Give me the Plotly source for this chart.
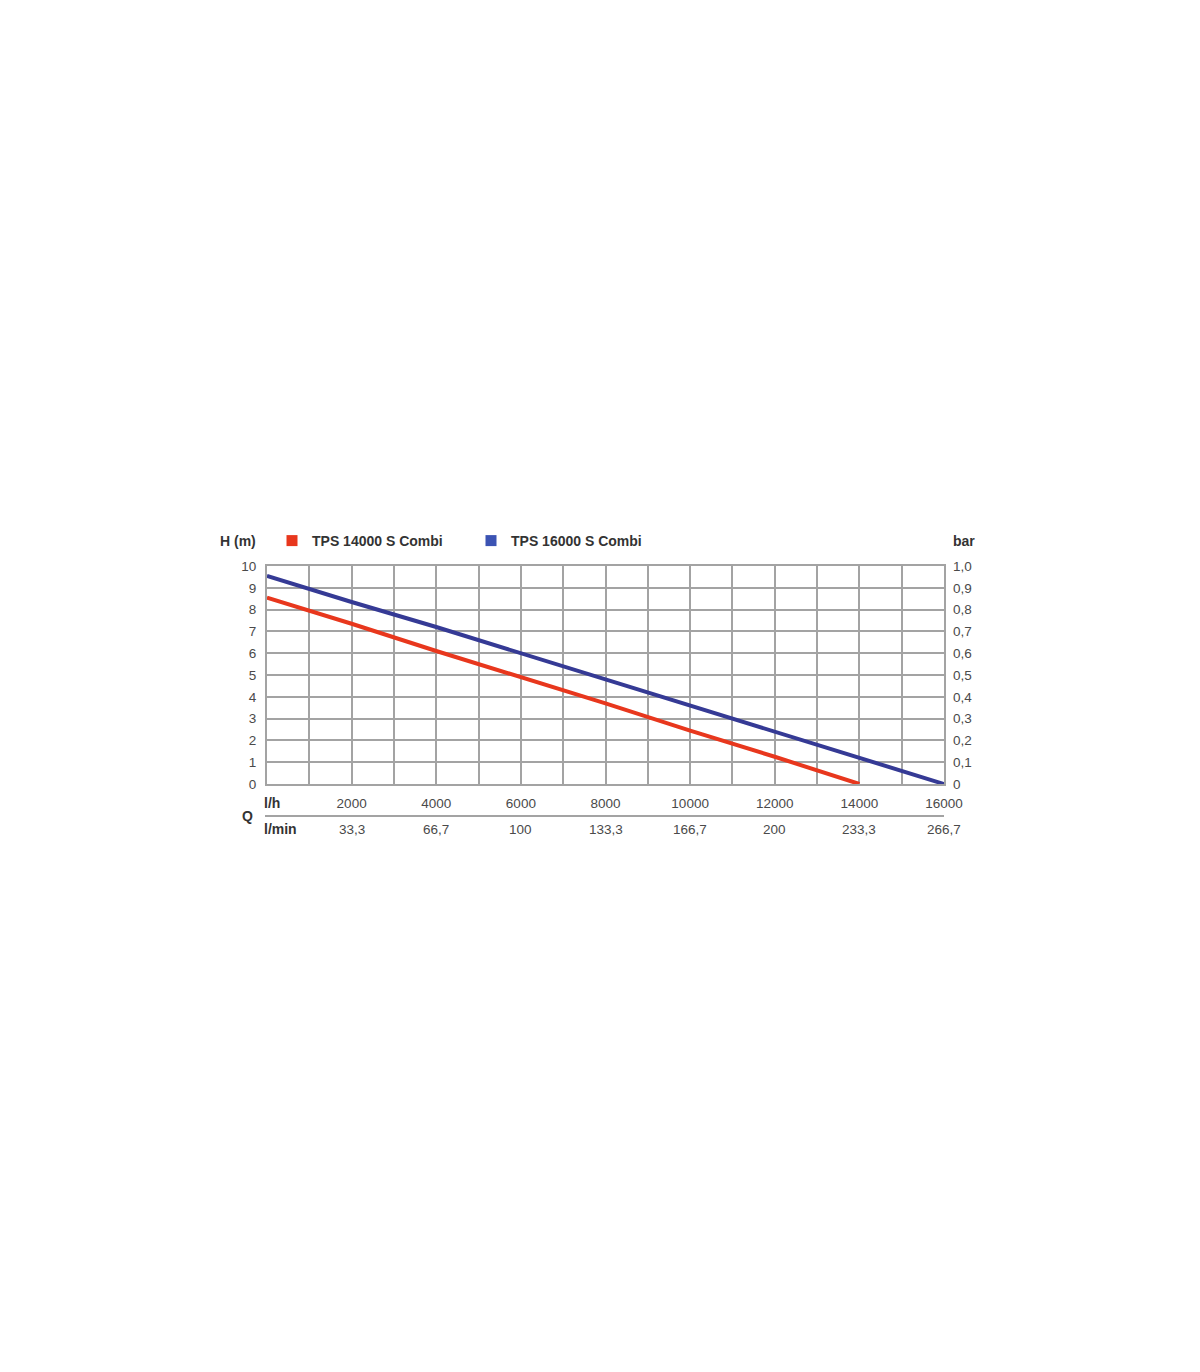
import plotly.graph_objects as go

# ── Data ─────────────────────────────────────────────────────────────────────
Q_LH = [0, 2000, 4000, 6000, 8000, 10000, 12000, 14000, 16000]
H_14000 = [8.55, 7.35, 6.1, 4.9, 3.7, 2.45, 1.25, 0.0, None]
H_16000 = [9.55, 8.35, 7.2, 6.0, 4.8, 3.6, 2.4, 1.2, 0.0]

SERIES = ["TPS 14000 S Combi", "TPS 16000 S Combi"]
LINE_COLORS = ["#e8371d", "#353a95"]
LEGEND_COLORS = ["#e8371d", "#3b53b3"]

X_GRID = list(range(0, 16001, 1000))
X_LABELS = ["" if v % 2000 or v == 0 else str(v) for v in X_GRID]
LMIN_VALS = [2000, 4000, 6000, 8000, 10000, 12000, 14000, 16000]
LMIN_LABELS = ["33,3", "66,7", "100", "133,3", "166,7", "200", "233,3", "266,7"]
H_TICKS = list(range(0, 11))
BAR_VALS = [i / 10 for i in range(0, 11)]
BAR_LABELS = ["0", "0,1", "0,2", "0,3", "0,4", "0,5", "0,6", "0,7", "0,8", "0,9", "1,0"]

_FONT = "Liberation Sans, Arial, sans-serif"
_TICK = "#4a4a4a"
_BOLD = "#333333"
_GRID = "#a3a3a3"
_TICK_SIZE = 13.5

W, H = 1200, 1372
OFF = 8  # page body margin
L, R, T, B = 267 - OFF, 944 - OFF, 566 - OFF, 784 - OFF  # plot area in px


def _fx(px):
    return (px - OFF - L) / (R - L)


def _fy(py):
    return (B - (py - OFF)) / (B - T)


fig = go.Figure()

for name, ys, lc in zip(SERIES, [H_14000, H_16000], LINE_COLORS):
    fig.add_trace(go.Scatter(
        x=Q_LH, y=ys, mode="lines", name=name, showlegend=False,
        line=dict(color=lc, width=4), connectgaps=False,
    ))

# legend-only square markers
for name, lc in zip(SERIES, LEGEND_COLORS):
    fig.add_trace(go.Scatter(
        x=[None], y=[None], mode="markers", name=name,
        marker=dict(symbol="square", size=11, color=lc),
    ))

# invisible trace so the right (bar) axis is drawn
fig.add_trace(go.Scatter(
    x=[Q_LH[0], Q_LH[-1]], y=[BAR_VALS[0], BAR_VALS[-1]], yaxis="y2",
    mode="lines", line=dict(width=0), showlegend=False, hoverinfo="skip",
))

fig.update_layout(
    width=W, height=H,
    margin=dict(l=L, r=W - R, t=T, b=H - B, autoexpand=False),
    paper_bgcolor="white", plot_bgcolor="white",
    font=dict(family=_FONT, size=_TICK_SIZE, color=_TICK),
    showlegend=True,
    legend=dict(
        orientation="h", xref="paper", yref="paper",
        x=_fx(272), y=_fy(541), yanchor="middle", xanchor="left",
        font=dict(size=14, color=_BOLD, family=_FONT, weight="bold"),
        entrywidth=154, itemwidth=30, tracegroupgap=0,
    ),
    xaxis=dict(
        range=[0, 16000], tickvals=X_GRID, ticktext=X_LABELS,
        showgrid=True, gridcolor=_GRID, gridwidth=2,
        showline=True, mirror=True, linecolor=_GRID, linewidth=2,
        zeroline=False, ticks="", ticklabelstandoff=6,
        tickfont=dict(size=_TICK_SIZE, color=_TICK),
    ),
    yaxis=dict(
        range=[0, 10], tickvals=H_TICKS,
        showgrid=True, gridcolor=_GRID, gridwidth=2,
        showline=True, mirror=True, linecolor=_GRID, linewidth=2,
        zeroline=False, ticks="", ticklabelstandoff=6,
        tickfont=dict(size=_TICK_SIZE, color=_TICK),
    ),
    yaxis2=dict(
        overlaying="y", side="right", range=[0, 1],
        tickvals=BAR_VALS, ticktext=BAR_LABELS,
        showgrid=False, zeroline=False, showline=False, ticks="",
        ticklabelstandoff=8, tickfont=dict(size=_TICK_SIZE, color=_TICK),
    ),
)

# l/min row under the separator
for v, txt in zip(LMIN_VALS, LMIN_LABELS):
    fig.add_annotation(
        x=v, xref="x", y=_fy(829), yref="paper",
        text=txt, showarrow=False, xanchor="center", yanchor="middle",
        font=dict(size=_TICK_SIZE, color=_TICK),
    )


def _caption(text, px, py, anchor="left"):
    fig.add_annotation(
        x=_fx(px), y=_fy(py), xref="paper", yref="paper",
        text=f"<b>{text}</b>", showarrow=False, xanchor=anchor, yanchor="middle",
        font=dict(size=14, color=_BOLD),
    )


_caption("H (m)", 258, 541, "right")
_caption("bar", 977, 541, "right")
_caption("l/h", 262, 803, "left")
_caption("l/min", 262, 829, "left")
_caption("Q", 255, 816, "right")

# separator between the l/h and l/min rows
fig.add_shape(
    type="line", xref="paper", yref="paper",
    x0=_fx(265), x1=1.0, y0=_fy(816), y1=_fy(816),
    line=dict(color=_GRID, width=2),
)

fig.write_html("out.html")
